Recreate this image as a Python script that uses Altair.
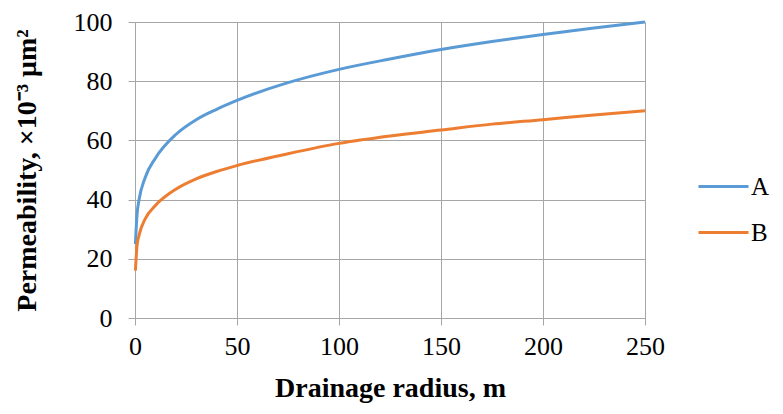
import altair as alt
import pandas as pd

radius = [0.2, 1, 2, 5, 10, 20, 30, 40, 50, 75, 100, 125, 150, 175, 200, 225, 250]
perm_a = [25, 35, 40, 47.5, 54, 62, 67, 70.5, 73.5, 79.5, 84, 87.5, 90.7, 93.4, 95.8, 98, 100]
perm_b = [16, 24.5, 28, 33.5, 38, 43.5, 47, 49.5, 51.5, 55.5, 59, 61.5, 63.5, 65.5, 67, 68.6, 70]
series = ["A", "B"]
colors = ["#5B9BD5", "#ED7D31"]

rows = []
for x, a, b in zip(radius, perm_a, perm_b):
    rows.append({"r": x, "k": a, "s": "A"})
    rows.append({"r": x, "k": b, "s": "B"})
df = pd.DataFrame(rows)

font = "Liberation Serif"

chart = alt.Chart(df).mark_line(strokeWidth=3, interpolate="monotone").encode(
    x=alt.X("r:Q", scale=alt.Scale(domain=[0, 250], nice=False),
            axis=alt.Axis(values=[0, 50, 100, 150, 200, 250], title="Drainage radius, m",
                          titlePadding=15, labelPadding=8, labelFlush=False,
                          labelFont=font, titleFont=font, titleFontSize=28)),
    y=alt.Y("k:Q", scale=alt.Scale(domain=[0, 100], nice=False),
            axis=alt.Axis(values=[0, 20, 40, 60, 80, 100],
                          title="Permeability, ×10⁻³ μm²", titlePadding=32, labelPadding=16,
                          labelFont=font, titleFont=font, titleFontSize=28)),
    color=alt.Color("s:N", scale=alt.Scale(domain=series, range=colors),
                    legend=alt.Legend(title=None, orient="none", legendX=562, legendY=138,
                                      symbolType="stroke", symbolSize=2500,
                                      symbolStrokeWidth=3, labelFont=font, labelFontSize=25,
                                      labelColor="black", rowPadding=6, labelOffset=1)),
).properties(
    width=510, height=296,
    autosize=alt.AutoSizeParams(type="none"),
    padding={"left": 127, "top": 14, "right": 130, "bottom": 88},
).configure(
    font=font
).configure_view(
    stroke=None
).configure_axis(
    grid=True, gridColor="#A6A6A6", gridWidth=1, ticks=True,
    domainColor="#A6A6A6", tickColor="#A6A6A6", tickSize=7,
    labelFontSize=26, labelColor="black",
    titleFontWeight="bold", titleColor="black",
)

chart.save("out.html", embed_options={"renderer": "svg", "actions": False})
